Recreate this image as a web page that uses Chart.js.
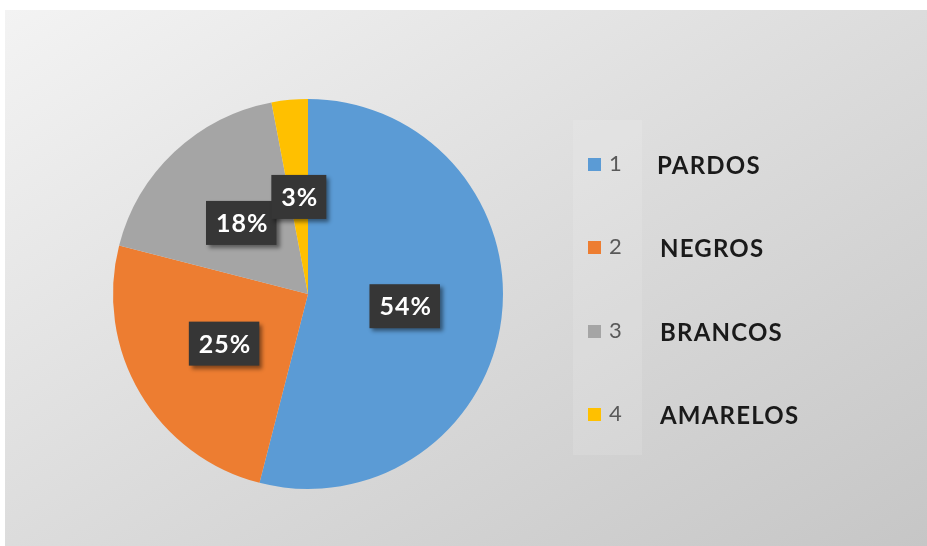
<!DOCTYPE html>
<html>
<head>
<meta charset="utf-8">
<script src="https://cdn.jsdelivr.net/npm/chart.js@4"></script>
<style>
    body { margin: 0; background: #ffffff; }
    #caixa {
        position: absolute;
        left: 5px;
        top: 10px;
        width: 922px;
        height: 536px;
        background: linear-gradient(to bottom right, #f3f3f3, #dcdcdc 50%, #c6c6c6);
    }
</style>
</head>
<body>
<div id="caixa"><canvas id="graficoCor"></canvas></div>
<script>
// dados do grafico
const numeros = ['1', '2', '3', '4'];
const categorias = ['PARDOS', 'NEGROS', 'BRANCOS', 'AMARELOS'];
const porcentagens = [54, 25, 18, 3];
const cores = ['#5b9bd5', '#ed7d31', '#a5a5a5', '#ffc000'];

// caixas escuras com a porcentagem no meio de cada fatia
const rotulos = {
    id: 'rotulos',
    afterDatasetsDraw(chart) {
        const ctx = chart.ctx;
        const meta = chart.getDatasetMeta(0);
        ctx.save();
        ctx.font = 'bold 25px Lato';
        ctx.letterSpacing = '1px';
        ctx.textAlign = 'center';
        ctx.textBaseline = 'middle';
        meta.data.forEach((arco, i) => {
            const pos = arco.tooltipPosition();
            const texto = chart.data.datasets[0].data[i] + '%';
            const largura = ctx.measureText(texto).width + 18;
            const altura = 44;
            ctx.shadowColor = 'rgba(0,0,0,0.45)';
            ctx.shadowBlur = 4;
            ctx.shadowOffsetX = 3;
            ctx.shadowOffsetY = 3;
            ctx.fillStyle = '#363636';
            ctx.fillRect(pos.x - largura / 2, pos.y - altura / 2, largura, altura);
            ctx.shadowColor = 'transparent';
            ctx.fillStyle = '#ffffff';
            ctx.fillText(texto, pos.x + 1, pos.y + 1);
        });
        ctx.restore();
    }
};

// legenda: quadrado, numero e nome da categoria
const legenda = {
    id: 'legenda',
    afterDraw(chart) {
        const ctx = chart.ctx;
        const linhas = [154, 237, 321, 404];
        ctx.save();
        ctx.fillStyle = 'rgba(255,255,255,0.12)';
        ctx.fillRect(568, 110, 69, 335);
        ctx.textBaseline = 'middle';
        ctx.textAlign = 'left';
        numeros.forEach((n, i) => {
            const y = linhas[i];
            ctx.fillStyle = cores[i];
            ctx.fillRect(583, y - 6, 13, 13);
            ctx.letterSpacing = '0px';
            ctx.fillStyle = '#595959';
            ctx.font = '22px Lato';
            ctx.fillText(n, 604, y);
            ctx.letterSpacing = '1.2px';
            ctx.fillStyle = '#1a1a1a';
            ctx.font = 'bold 24px Lato';
            ctx.fillText(categorias[i], 652 + (i ? 3 : 0), y + 2);
        });
        ctx.restore();
    }
};

new Chart('graficoCor', {
    type: 'pie',
    data: {
        labels: categorias,
        datasets: [{
            data: porcentagens,
            backgroundColor: cores,
            borderWidth: 0,
            hoverOffset: 0
        }]
    },
    options: {
        responsive: true,
        maintainAspectRatio: false,
        animation: false,
        layout: {
            padding: { left: 108, right: 424, top: 89, bottom: 57 }
        },
        plugins: {
            legend: { display: false },
            tooltip: { enabled: false }
        }
    },
    plugins: [rotulos, legenda]
});
</script>
</body>
</html>
